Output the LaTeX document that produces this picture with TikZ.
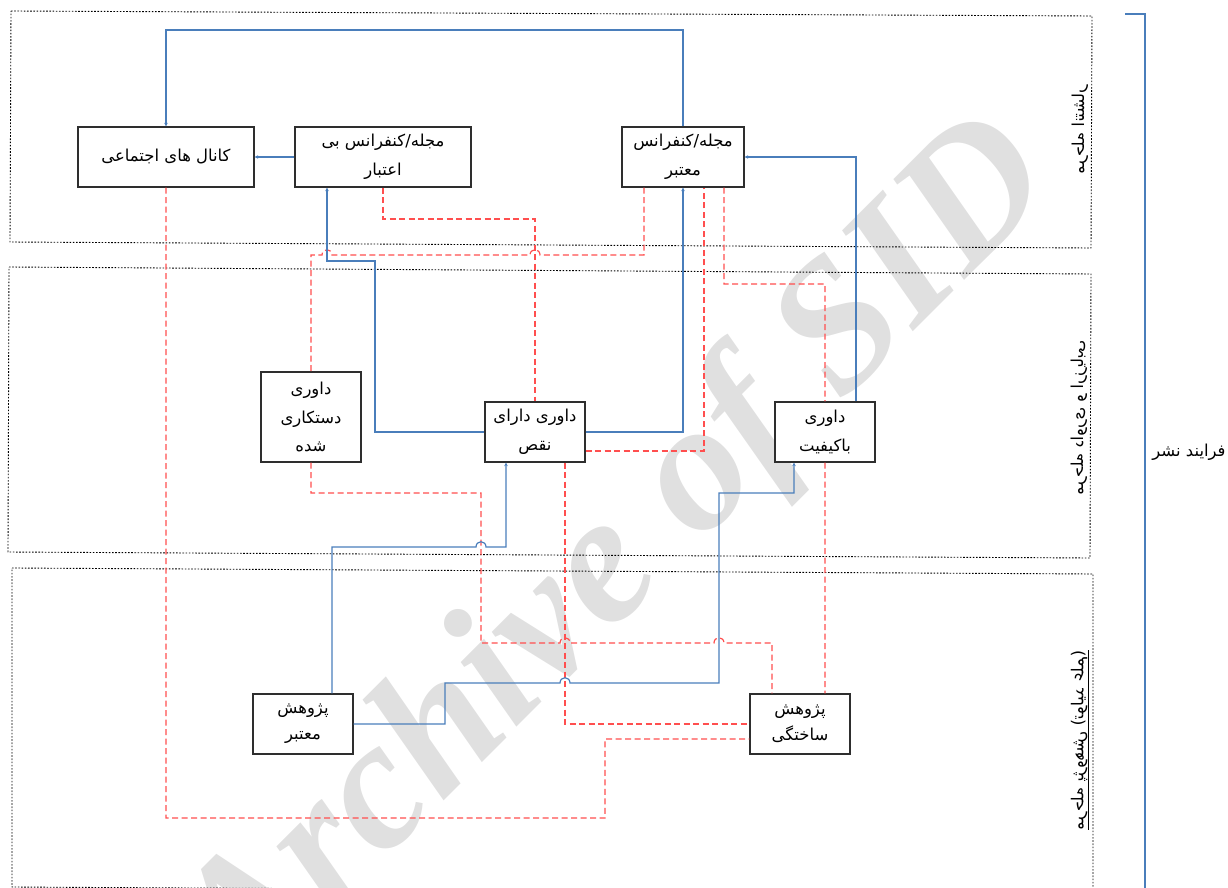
\documentclass[tikz,border=0pt]{standalone}
\usepackage{fontspec}
\usepackage{graphicx}
\usetikzlibrary{arrows.meta}
\TeXXeTstate=1
\newfontfamily\arabicfont[Script=Arabic]{DejaVu Sans}
\newfontfamily\wmfont{Liberation Serif}
\newcommand{\ptxt}[1]{{\arabicfont\beginR #1\endR}}
\definecolor{lnblue}{HTML}{4A7EBB}
\definecolor{lnred}{HTML}{FF4F4F}
\definecolor{wmgray}{HTML}{E0E0E0}
\definecolor{boxgray}{HTML}{2E2E2E}
\tikzset{
  box/.style={draw=boxgray, line width=1.3bp, fill=white, inner sep=0pt, align=center,
    font=\arabicfont\fontsize{16.5}{29}\selectfont},
  bl/.style={draw=lnblue, line width=1.2bp, -{Stealth[length=3.5bp,width=3.5bp]}},
  rd/.style={draw=lnred, line width=1.2bp, dash pattern=on 6bp off 3.5bp},
  stage/.style={draw=black, line width=0.9bp, dash pattern=on 1.6bp off 1.6bp},
  sidelabel/.style={font=\arabicfont\fontsize{16.5}{18}\selectfont, inner sep=0pt},
}
\begin{document}
\begin{tikzpicture}[x=1bp,y=-1bp]
\useasboundingbox (0,0) rectangle (1228,888);
\clip (0,0) rectangle (1228,888);
% watermark
\node[rotate=45, text=wmgray, inner sep=0pt,
  font=\wmfont\bfseries\itshape\fontsize{186}{186}\selectfont] (WM) at (620,560) {Archive of SID};
% stage boxes
\draw[stage] (11,11) -- (1092,16) -- (1091,248) -- (10,242) -- cycle;
\draw[stage] (9,267) -- (1091,274) -- (1090,558) -- (8,552) -- cycle;
\draw[stage] (12,568) -- (1093,574) -- (1093,893) -- (12,887) -- cycle;
% nodes
\node[box, minimum width=176bp, minimum height=60bp] (N1) at (166,157) {\ptxt{کانال های اجتماعی}};
\node[box, minimum width=176bp, minimum height=60bp] (N2) at (383,157) {\ptxt{مجله/کنفرانس بی}\\\ptxt{اعتبار}};
\node[box, minimum width=122bp, minimum height=60bp] (N3) at (683,157) {\ptxt{مجله/کنفرانس}\\\ptxt{معتبر}};
\node[box, minimum width=100bp, minimum height=90bp] (N4) at (311,417) {\ptxt{داوری}\\\ptxt{دستکاری}\\\ptxt{شده}};
\node[box, minimum width=100bp, minimum height=60bp] (N5) at (535,432) {\ptxt{داوری دارای}\\\ptxt{نقص}};
\node[box, minimum width=100bp, minimum height=60bp] (N6) at (825,432) {\ptxt{داوری}\\\ptxt{باکیفیت}};
\node[box, minimum width=100bp, minimum height=60bp, font=\arabicfont\fontsize{16.5}{26}\selectfont] (N7) at (303,724) {\ptxt{پژوهش}\\\ptxt{معتبر}};
\node[box, minimum width=100bp, minimum height=60bp, font=\arabicfont\fontsize{16.5}{26}\selectfont] (N8) at (800,724) {\ptxt{پژوهش}\\\ptxt{ساختگی}};
% side labels
\node[sidelabel, rotate=90] (L1) at (1080,130) {\reflectbox{\ptxt{مرحله انتشار}}};
\node[sidelabel, rotate=90] (L2) at (1079,418) {\reflectbox{\ptxt{مرحله داوری و ارزیابی}}};
\node[sidelabel, rotate=90] (L3) at (1080,740) {\reflectbox{\underline{\ptxt{مرحله پژوهش (تولید علم)}}}};
\node[sidelabel] (L4) at (1189,452) {\ptxt{فرایند نشر}};
\draw[draw=lnblue, line width=1.4bp] (1125,14) -- (1145,14) -- (1145,890);
% red dashed connectors
\draw[rd] (N1.south) -- (166,818) -- (605,818) -- (605,739) -- ([yshift=-15bp]N8.west);
\draw[rd] (N2.south) -- (383,219) -| (N5.north);
\draw[rd] ([xshift=-39bp]N3.south) -- (644,255) -- (540,255) .. controls (540,248) and (530,248) .. (530,255)
  -- (332,255) .. controls (332,248) and (322,248) .. (322,255) -| (N4.north);
\draw[rd] ([yshift=-19bp]N5.east) -| ([xshift=21bp]N3.south);
\draw[rd] ([xshift=41bp]N3.south) -- (724,284) -| (N6.north);
\draw[rd] (N6.south) -- ([xshift=25bp]N8.north);
\draw[rd] (N4.south) -- (311,493) -- (481,493) -- (481,643) -- (560,643) .. controls (560,636) and (570,636) .. (570,643)
  -- (714,643) .. controls (714,636) and (724,636) .. (724,643) -| ([xshift=-28bp]N8.north);
\draw[rd] ([xshift=30bp]N5.south) |- (N8.west);
% blue connectors
\draw[bl] (N3.north) -- (683,30) -| (N1.north);
\draw[bl] (N2.west) -- (N1.east);
\draw[bl] ([xshift=31bp]N6.north) |- (N3.east);
\draw[bl] (N5.east) -| (N3.south);
\draw[bl] (N5.west) -- (375,432) -- (375,261) -| ([xshift=-56bp]N2.south);
\draw[bl] ([xshift=29bp]N7.north) -- (332,547) -- (476,547) .. controls (476,540) and (486,540) .. (486,547)
  -| ([xshift=-29bp]N5.south);
\draw[bl] (N7.east) -- (445,724) -- (445,683) -- (560,683) .. controls (560,676) and (570,676) .. (570,683)
  -- (719,683) -- (719,493) -| ([xshift=-31bp]N6.south);
\end{tikzpicture}
\end{document}
